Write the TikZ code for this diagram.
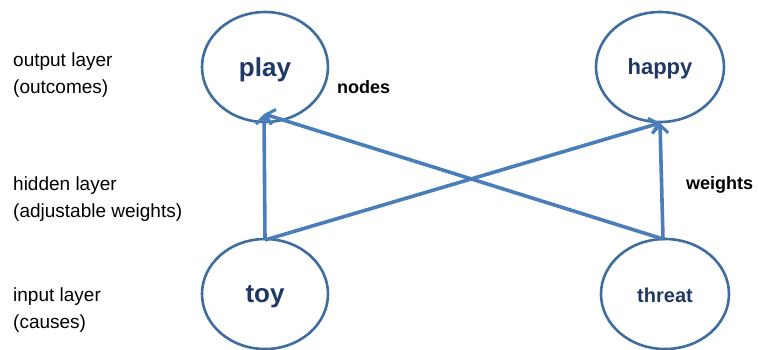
\documentclass[tikz,border=0pt]{standalone}
\usepackage{fontspec}
\setmainfont{Liberation Sans}
\usetikzlibrary{shapes.geometric,arrows.meta}
\definecolor{ringc}{HTML}{3F6D9E}
\definecolor{arrc}{HTML}{4A7EBB}
\definecolor{txtc}{HTML}{1F3864}
\tikzset{
  unit/.style={ellipse,draw=ringc,line width=2.6pt,minimum width=126pt,minimum height=110pt,inner sep=0pt,text=txtc},
  lbl/.style={text=txtc,inner sep=0pt},
  conn/.style={draw=arrc,line width=3.6pt,-{Straight Barb[length=8pt,width=16pt,line width=3pt]}},
  layerlbl/.style={anchor=west,align=left,font=\fontsize{19}{27}\selectfont,inner sep=0pt},
  tag/.style={anchor=west,font=\fontsize{18}{20}\selectfont\bfseries,inner sep=0pt}
}
\begin{document}
\begin{tikzpicture}[x=1pt,y=-1pt]
\useasboundingbox (0,0) rectangle (758,349);
\node[unit] (play) at (265,67) {};
\node[unit,minimum width=128pt] (happy) at (660,67) {};
\node[unit] (toy) at (265,294) {};
\node[unit,minimum width=128pt] (threat) at (665,294) {};
\node[lbl,font=\fontsize{26}{28}\selectfont\bfseries] (playt) at (265,70) {play};
\node[lbl,font=\fontsize{22}{24}\selectfont\bfseries] (happyt) at (660,69) {happy};
\node[lbl,font=\fontsize{26}{28}\selectfont\bfseries] (toyt) at (265,297) {toy};
\node[lbl,font=\fontsize{20}{22}\selectfont\bfseries] (threatt) at (665,295) {threat};
\coordinate (playin) at (264,114);
\coordinate (happyin) at (660,123);
\coordinate (toyout) at (265,240);
\coordinate (threatout) at (663,239);
\draw[conn] (toyout) -- (playin);
\draw[conn] (toyout) -- (happyin);
\draw[conn] (threatout) -- (playin);
\draw[conn] (threatout) -- (happyin);
\node[layerlbl] (outl) at (13,75) {output layer\\(outcomes)};
\node[layerlbl] (hidl) at (13,199) {hidden layer\\(adjustable weights)};
\node[layerlbl] (inl) at (13,310) {input layer\\(causes)};
\node[tag] (nodes) at (337,87) {nodes};
\node[tag] (weights) at (686,185) {weights};
\end{tikzpicture}
\end{document}
